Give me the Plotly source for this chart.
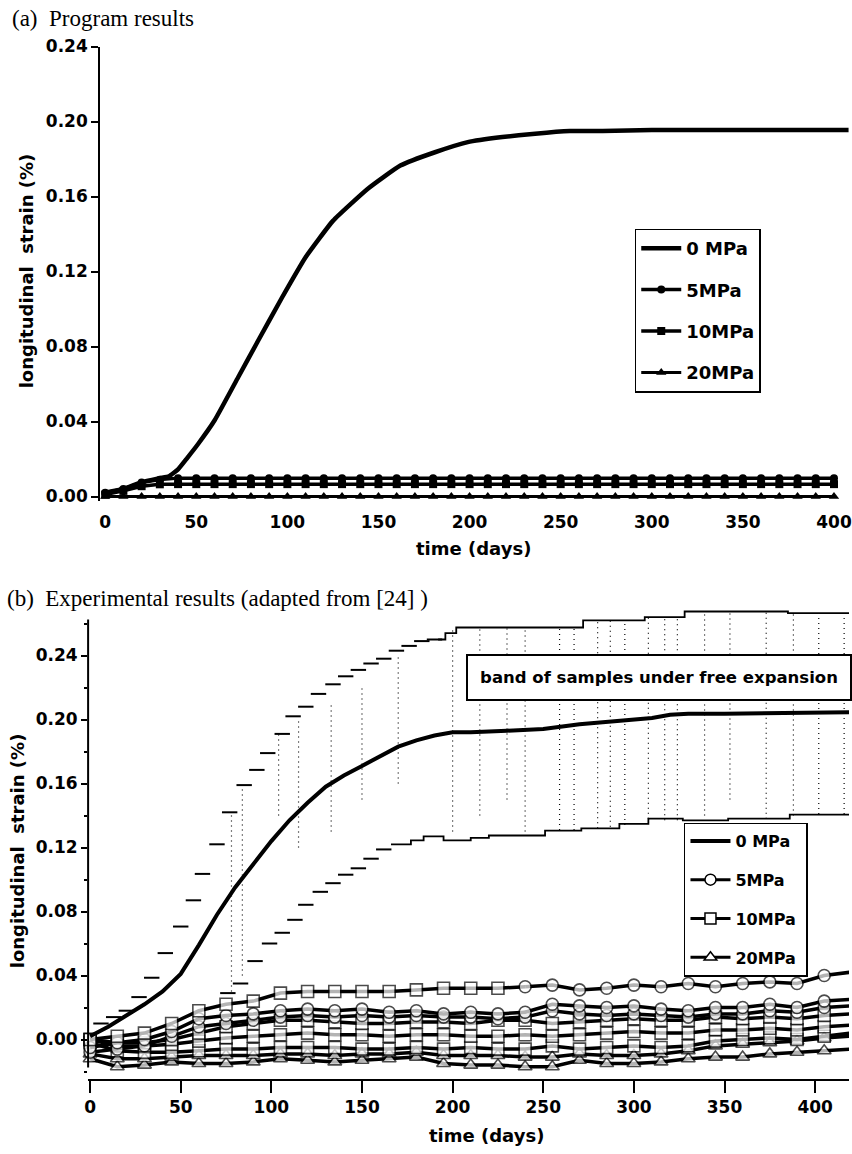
import plotly.graph_objects as go

# ---------------- Panel (a): program results ----------------
a_days_0 = [0, 10, 20, 30, 35, 40, 45, 51, 60, 73, 84, 97, 110, 125, 144, 162, 181, 199, 218, 236, 255, 273, 300, 350, 408]
a_strain_0 = [0.002, 0.004, 0.0076, 0.0098, 0.0108, 0.0145, 0.0205, 0.028, 0.0405, 0.0636, 0.0832, 0.106, 0.1276,
              0.147, 0.164, 0.1765, 0.1836, 0.189, 0.1917, 0.1935, 0.1949, 0.195, 0.1955, 0.1955, 0.1955]

a_days_m = [0, 10, 20, 30, 40, 50, 60, 70, 80, 90, 100, 110, 120, 130, 140, 150, 160, 170, 180, 190, 200,
            210, 220, 230, 240, 250, 260, 270, 280, 290, 300, 310, 320, 330, 340, 350, 360, 370, 380, 390, 400]
a_strain_5 = [0.002, 0.004, 0.0075, 0.009, 0.0098, 0.0098, 0.0098, 0.0098, 0.0098, 0.0098, 0.0098, 0.0098,
              0.0098, 0.0098, 0.0098, 0.0098, 0.0098, 0.0098, 0.0098, 0.0098, 0.0098, 0.0098, 0.0098, 0.0098,
              0.0098, 0.0098, 0.0098, 0.0098, 0.0098, 0.0098, 0.0098, 0.0098, 0.0098, 0.0098, 0.0098, 0.0098,
              0.0098, 0.0098, 0.0098, 0.0098, 0.0098]
a_strain_10 = [0.001, 0.003, 0.0055, 0.0065, 0.0066, 0.0066, 0.0066, 0.0066, 0.0066, 0.0066, 0.0066, 0.0066,
               0.0066, 0.0066, 0.0066, 0.0066, 0.0066, 0.0066, 0.0066, 0.0066, 0.0066, 0.0066, 0.0066, 0.0066,
               0.0066, 0.0066, 0.0066, 0.0066, 0.0066, 0.0066, 0.0066, 0.0066, 0.0066, 0.0066, 0.0066, 0.0066,
               0.0066, 0.0066, 0.0066, 0.0066, 0.0066]
a_strain_20 = [0.0, 0.0, 0.0, 0.0, 0.0, 0.0, 0.0, 0.0, 0.0, 0.0, 0.0, 0.0, 0.0, 0.0, 0.0, 0.0, 0.0, 0.0, 0.0,
               0.0, 0.0, 0.0, 0.0, 0.0, 0.0, 0.0, 0.0, 0.0, 0.0, 0.0, 0.0, 0.0, 0.0, 0.0, 0.0, 0.0, 0.0, 0.0,
               0.0, 0.0, 0.0]

# ---------------- Panel (b): experimental results ----------------
b_days_0 = [0, 10, 20, 30, 40, 50, 60, 70, 80, 90, 100, 110, 120, 130, 140, 150, 160, 170, 180, 190, 200,
            210, 230, 250, 270, 290, 300, 310, 320, 330, 350, 380, 419]
b_strain_0 = [0.002, 0.008, 0.015, 0.022, 0.030, 0.041, 0.059, 0.078, 0.095, 0.110, 0.124, 0.137, 0.148,
              0.158, 0.165, 0.171, 0.177, 0.183, 0.187, 0.190, 0.192, 0.192, 0.193, 0.194, 0.197, 0.199,
              0.1995, 0.201, 0.203, 0.2036, 0.2036, 0.204, 0.2046]

band_up_dash_days = [6, 13, 20, 27, 34, 41.5, 50, 57, 62, 70, 77, 85, 92, 98, 106, 112, 119, 126, 134, 141,
                     148, 155, 162, 169, 176, 183, 190]
band_up_dash = [0.010, 0.014, 0.018, 0.0265, 0.0386, 0.054, 0.0706, 0.087, 0.1035, 0.122, 0.142, 0.159,
                0.1685, 0.179, 0.191, 0.202, 0.208, 0.216, 0.222, 0.227, 0.231, 0.235, 0.238, 0.243, 0.246,
                0.249, 0.250]
band_up_step_days = [192, 196, 202, 257, 272, 306, 328, 385, 420]
band_up_step = [0.250, 0.254, 0.2575, 0.2575, 0.262, 0.264, 0.2675, 0.2665, 0.2665]

band_lo_dash_days = [76, 83, 91, 99, 106, 113, 119, 127, 134, 141, 148, 155, 162]
band_lo_dash = [0.029, 0.035, 0.049, 0.060, 0.0667, 0.0748, 0.0842, 0.0923, 0.0977, 0.103, 0.107, 0.113,
                0.1188]
band_lo_step_days = [166, 177, 184, 195, 210, 220, 251, 271, 292, 308, 327, 352, 386, 419]
band_lo_step = [0.122, 0.1244, 0.127, 0.1244, 0.126, 0.1275, 0.1306, 0.132, 0.1348, 0.138, 0.137, 0.138,
                0.1406, 0.1406]

# individual free-expansion samples (dotted vertical scatter inside the band)
scatter_days = [78, 84, 104, 115, 133, 150, 170, 200, 215, 230, 240, 259, 267, 280, 287, 295, 308, 317, 324,
                339, 353, 373, 388, 402, 416]
scatter_top = [0.142, 0.159, 0.191, 0.200, 0.210, 0.220, 0.240, 0.2575, 0.2575, 0.2575, 0.2575, 0.2575,
               0.2575, 0.262, 0.262, 0.262, 0.264, 0.264, 0.264, 0.2675, 0.2675, 0.2675, 0.2675, 0.2665, 0.2665]
scatter_bot = [0.030, 0.040, 0.140, 0.120, 0.130, 0.150, 0.160, 0.130, 0.140, 0.150, 0.130, 0.131, 0.131,
               0.132, 0.133, 0.134, 0.138, 0.137, 0.137, 0.140, 0.150, 0.138, 0.140, 0.141, 0.141]

b_days_m = [0, 15, 30, 45, 60, 75, 90, 105, 120, 135, 150, 165, 180, 195, 210, 225, 240, 255, 270, 285,
            300, 315, 330, 345, 360, 375, 390, 405, 419]
sq_top_days = [0, 15, 30, 45, 60, 75, 90, 105, 120, 135, 150, 165, 180, 195, 210, 225, 240]
sq_top = [0.000, 0.002, 0.004, 0.010, 0.018, 0.022, 0.024, 0.029, 0.030, 0.030, 0.030, 0.030, 0.031, 0.032,
          0.032, 0.032, 0.033]
ci_top_days = [240, 255, 270, 285, 300, 315, 330, 345, 360, 375, 390, 405, 419]
ci_top = [0.033, 0.034, 0.031, 0.032, 0.034, 0.033, 0.035, 0.033, 0.035, 0.036, 0.035, 0.040, 0.042]

s5_b = [-0.005, -0.002, 0.000, 0.005, 0.013, 0.015, 0.016, 0.018, 0.019, 0.018, 0.019, 0.017, 0.018, 0.016,
        0.017, 0.016, 0.017, 0.022, 0.021, 0.020, 0.021, 0.019, 0.018, 0.020, 0.020, 0.022, 0.020, 0.024, 0.025]
s5_c = [-0.008, -0.006, -0.004, 0.002, 0.008, 0.010, 0.012, 0.014, 0.015, 0.014, 0.015, 0.014, 0.015, 0.014,
        0.014, 0.013, 0.014, 0.018, 0.016, 0.015, 0.016, 0.015, 0.014, 0.016, 0.016, 0.018, 0.017, 0.020, 0.021]
s10_a = [0.000, -0.002, -0.002, 0.000, 0.004, 0.008, 0.010, 0.012, 0.012, 0.011, 0.010, 0.010, 0.011, 0.011,
         0.010, 0.012, 0.012, 0.010, 0.011, 0.012, 0.013, 0.012, 0.012, 0.014, 0.013, 0.014, 0.013, 0.015, 0.016]
s10_b = [0.000, -0.004, -0.004, -0.003, -0.001, 0.001, 0.002, 0.003, 0.004, 0.003, 0.003, 0.002, 0.003, 0.003,
         0.002, 0.002, 0.003, 0.002, 0.003, 0.004, 0.005, 0.004, 0.004, 0.006, 0.006, 0.007, 0.006, 0.008, 0.009]
s10_c = [-0.002, -0.007, -0.008, -0.008, -0.007, -0.006, -0.006, -0.005, -0.005, -0.005, -0.006, -0.006,
         -0.005, -0.006, -0.005, -0.006, -0.006, -0.004, -0.006, -0.005, -0.004, -0.005, -0.004, -0.001, 0.000,
         0.001, 0.000, 0.002, 0.004]
s20_a = [-0.012, -0.017, -0.016, -0.014, -0.015, -0.015, -0.014, -0.012, -0.013, -0.014, -0.013, -0.012,
         -0.011, -0.015, -0.016, -0.016, -0.017, -0.017, -0.013, -0.015, -0.015, -0.014, -0.012, -0.011,
         -0.011, -0.009, -0.008, -0.007, -0.006]
s20_b = [-0.009, -0.012, -0.012, -0.011, -0.010, -0.010, -0.010, -0.009, -0.009, -0.010, -0.009, -0.009,
         -0.008, -0.010, -0.010, -0.010, -0.011, -0.011, -0.009, -0.010, -0.010, -0.009, -0.007, -0.004,
         -0.003, -0.002, -0.001, 0.001, 0.002]

# ---------------- geometry helpers (pixel layout, with render calibration) ----------------
W, H = 852, 1154
SX, OX, SY, OY = 0.987, 4.3, 0.987, 9.5
def px(x):
    return ((x - OX) / SX) / W
def py(y):
    return 1 - ((y - OY) / SY) / H

FONT = "DejaVu Sans"
SERIF = "Liberation Serif"

fig = go.Figure()

# ---- panel (a) traces
fig.add_trace(go.Scatter(x=a_days_0, y=a_strain_0, mode="lines", name="0 MPa",
                         line=dict(color="black", width=4.5, shape="spline", smoothing=0.4),
                         xaxis="x", yaxis="y", legend="legend", legendgroup="a0", cliponaxis=False))
fig.add_trace(go.Scatter(x=a_days_m, y=a_strain_5, mode="lines+markers", name="5MPa",
                         line=dict(color="black", width=3.5),
                         marker=dict(symbol="circle", size=8, color="black"),
                         xaxis="x", yaxis="y", legend="legend", legendgroup="a5", cliponaxis=False))
fig.add_trace(go.Scatter(x=a_days_m, y=a_strain_10, mode="lines+markers", name="10MPa",
                         line=dict(color="black", width=3.5),
                         marker=dict(symbol="square", size=8, color="black"),
                         xaxis="x", yaxis="y", legend="legend", legendgroup="a10", cliponaxis=False))
fig.add_trace(go.Scatter(x=a_days_m, y=a_strain_20, mode="lines+markers", name="20MPa",
                         line=dict(color="black", width=3),
                         marker=dict(symbol="triangle-up", size=9, color="black"),
                         xaxis="x", yaxis="y", legend="legend", legendgroup="a20", cliponaxis=False))

# ---- panel (b) free-expansion band
vx, vy = [], []
for d, t, b in zip(scatter_days, scatter_top, scatter_bot):
    vx += [d, d, None]
    vy += [b, t, None]
fig.add_trace(go.Scatter(x=vx, y=vy, mode="lines", showlegend=False, hoverinfo="skip",
                         line=dict(color="black", width=1.2, dash="1px,4px"),
                         xaxis="x2", yaxis="y2"))
fig.add_trace(go.Scatter(x=band_up_dash_days, y=band_up_dash, mode="markers", showlegend=False,
                         marker=dict(symbol="line-ew", size=11, line=dict(color="black", width=2)),
                         xaxis="x2", yaxis="y2", cliponaxis=False))
fig.add_trace(go.Scatter(x=band_up_step_days, y=band_up_step, mode="lines", showlegend=False,
                         line=dict(color="black", width=1.8, shape="hv"),
                         xaxis="x2", yaxis="y2"))
fig.add_trace(go.Scatter(x=band_lo_dash_days, y=band_lo_dash, mode="markers", showlegend=False,
                         marker=dict(symbol="line-ew", size=11, line=dict(color="black", width=2)),
                         xaxis="x2", yaxis="y2", cliponaxis=False))
fig.add_trace(go.Scatter(x=band_lo_step_days, y=band_lo_step, mode="lines", showlegend=False,
                         line=dict(color="black", width=1.8, shape="hv"),
                         xaxis="x2", yaxis="y2"))

# ---- panel (b) restrained samples
def sizes(n, s):
    return [s] * (n - 1) + [0]

def sample(xs, ys, sym, s):
    fig.add_trace(go.Scatter(
        x=xs, y=ys, mode="lines+markers", showlegend=False,
        line=dict(color="black", width=3.5),
        marker=dict(symbol=sym, size=sizes(len(xs), s), color="white",
                    line=dict(color="black", width=1.6)),
        xaxis="x2", yaxis="y2", cliponaxis=False))

sample(b_days_m, s20_a, "triangle-up", 12)
sample(b_days_m, s20_b, "triangle-up", 12)
sample(b_days_m, s10_c, "square", 12)
sample(b_days_m, s10_b, "square", 12)
sample(b_days_m, s10_a, "square", 12)
sample(b_days_m, s5_c, "circle", 12)
sample(b_days_m, s5_b, "circle", 12)
sample(sq_top_days, sq_top, "square", 12)
sample(ci_top_days, ci_top, "circle", 12)

fig.add_trace(go.Scatter(x=b_days_0, y=b_strain_0, mode="lines", name="0 MPa\u00a0\u00a0",
                         line=dict(color="black", width=4),
                         xaxis="x2", yaxis="y2", legend="legend2", legendgroup="b0", legendrank=1))
# legend entries for panel (b)
for nm, sym, rk in [("5MPa", "circle", 2), ("10MPa", "square", 3), ("20MPa", "triangle-up", 4)]:
    fig.add_trace(go.Scatter(x=[None], y=[None], mode="lines+markers", name=nm,
                             line=dict(color="black", width=3),
                             marker=dict(symbol=sym, size=11, color="white", line=dict(color="black", width=1.5)),
                             xaxis="x2", yaxis="y2", legend="legend2", legendgroup="b" + nm, legendrank=rk))

# ---------------- layout ----------------
tickfont = dict(family=FONT, size=17, color="black", weight="bold")

# panel (a): y 0.24 at px 46, 0.00 at px 496 -> 75 px per 0.04
a_ymin = -0.0025
a_top, a_bot = 46, 496 + 0.0025 / 0.04 * 75
# x: day 0 at px 105, 1.82 px/day
a_x0, a_x1 = 100, 848
a_range = [(a_x0 - 105) / 1.82, (a_x1 - 105) / 1.82]

# panel (b): 0.00 at px 1039, 0.04 = 64 px ; day 0 at px 90, 1.82 px/day
b_top_val = 0.27
b_bot_val = -0.0244
b_top_px = 1039 - b_top_val / 0.04 * 64
b_bot_px = 1039 - b_bot_val / 0.04 * 64
b_x0, b_x1 = 88, 852
b_range = [(b_x0 - 90) / 1.82, (b_x1 - 90) / 1.82]

fig.update_layout(
    width=W, height=H, margin=dict(l=0, r=0, t=0, b=0),
    paper_bgcolor="white", plot_bgcolor="white",
    showlegend=True,
    xaxis=dict(domain=[px(a_x0), min(1, px(a_x1))], range=a_range, anchor="y",
               showline=False, showgrid=False, zeroline=False,
               tickvals=[0, 50, 100, 150, 200, 250, 300, 350, 400],
               ticks="outside", ticklen=5, tickcolor="rgba(0,0,0,0)",
               ticklabeloverflow="allow", tickfont=tickfont),
    yaxis=dict(domain=[py(a_bot), py(a_top)], range=[a_ymin, 0.24], anchor="x",
               showline=True, linecolor="black", linewidth=2,
               showgrid=False, zeroline=False,
               tickvals=[0, 0.04, 0.08, 0.12, 0.16, 0.20, 0.24], tickformat=".2f",
               ticks="outside", ticklen=7, tickwidth=2, tickcolor="black",
               tickfont=tickfont),
    xaxis2=dict(domain=[px(b_x0), min(1, px(b_x1))], range=b_range, anchor="y2",
                showline=True, linecolor="black", linewidth=2,
                showgrid=False, zeroline=False,
                tickvals=[0, 50, 100, 150, 200, 250, 300, 350, 400],
                ticks="outside", ticklen=12, tickwidth=2, tickcolor="black",
                ticklabeloverflow="allow", tickfont=tickfont),
    yaxis2=dict(domain=[py(b_bot_px), py(b_top_px)], range=[b_bot_val, b_top_val], anchor="x2",
                showline=False, showgrid=False, zeroline=False,
                tickvals=[0, 0.04, 0.08, 0.12, 0.16, 0.20, 0.24], tickformat=".2f",
                ticks="outside", ticklen=6, tickwidth=2, tickcolor="black",
                minor=dict(tickvals=[-0.02, 0.02, 0.06, 0.10, 0.14, 0.18, 0.22, 0.26],
                           ticks="outside", ticklen=3, tickwidth=1.5, tickcolor="black"),
                tickfont=tickfont),
    legend=dict(x=px(632), y=py(228), xanchor="left", yanchor="top",
                bgcolor="white", bordercolor="black", borderwidth=1.5,
                font=dict(family=FONT, size=18, color="black", weight="bold"),
                traceorder="grouped", tracegroupgap=15, itemwidth=40),
    legend2=dict(x=px(681), y=py(822), xanchor="left", yanchor="top",
                 bgcolor="white", bordercolor="black", borderwidth=1.5,
                 font=dict(family=FONT, size=16, color="black", weight="bold"),
                 traceorder="grouped", tracegroupgap=15, itemwidth=40),
)

# y-axis line of panel (b)
fig.add_shape(type="line", xref="x2 domain", yref="y2", x0=0, x1=0, y0=-0.0175, y1=0.2625,
              line=dict(color="black", width=2))

titlefont = dict(family=FONT, size=18, color="black", weight="bold")
anns = [
    dict(text="(a)  Program results", x=px(10), y=py(18), xanchor="left", yanchor="middle",
         font=dict(family=SERIF, size=23, color="black")),
    dict(text="(b)  Experimental results (adapted from [24] )", x=px(5), y=py(598),
         xanchor="left", yanchor="middle", font=dict(family=SERIF, size=23, color="black")),
    dict(text="longitudinal\u00a0 strain (%)", x=px(27), y=py(270), textangle=-90,
         xanchor="center", yanchor="middle", font=titlefont),
    dict(text="longitudinal\u00a0 strain (%)", x=px(18), y=py(850), textangle=-90,
         xanchor="center", yanchor="middle", font=titlefont),
    dict(text="time (days)", x=px(472), y=py(548), xanchor="center", yanchor="middle", font=titlefont),
    dict(text="time (days)", x=px(484), y=py(1135), xanchor="center", yanchor="middle", font=titlefont),
    dict(text="band of samples under free expansion", x=px(656), y=py(677), xanchor="center",
         yanchor="middle", width=382, height=43, bgcolor="white", bordercolor="black", borderwidth=2,
         borderpad=0, font=dict(family=FONT, size=16.5, color="black", weight="bold")),
]
for a in anns:
    a.update(xref="paper", yref="paper", showarrow=False)
    fig.add_annotation(**a)

fig.write_html("out.html")
